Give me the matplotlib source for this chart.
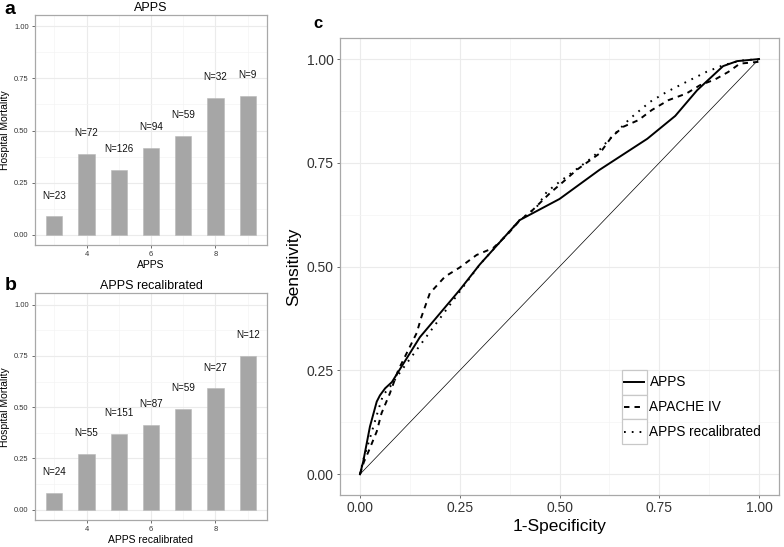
import numpy as np
import matplotlib
matplotlib.use("Agg")
import matplotlib.pyplot as plt
from matplotlib.patches import Rectangle
from matplotlib.lines import Line2D
from matplotlib.ticker import MultipleLocator

plt.rcParams["font.family"] = ["Liberation Sans", "DejaVu Sans"]

# =====================================================
# Data
# =====================================================

score = [3, 4, 5, 6, 7, 8, 9]

apps_mort = [0.087, 0.389, 0.310, 0.415, 0.475, 0.656, 0.667]
apps_n = [23, 72, 126, 94, 59, 32, 9]

recal_mort = [0.083, 0.273, 0.371, 0.414, 0.492, 0.593, 0.750]
recal_n = [24, 55, 151, 87, 59, 27, 12]

roc_names = ["APPS", "APACHE IV", "APPS recalibrated"]

apps_fpr = [0, 0.008, 0.025, 0.042, 0.05, 0.063, 0.08, 0.15, 0.25, 0.30,
            0.40, 0.50, 0.60, 0.72, 0.79, 0.845, 0.91, 0.945, 1.0]
apps_tpr = [0, 0.03, 0.115, 0.175, 0.19, 0.207, 0.222, 0.33, 0.444, 0.505,
            0.612, 0.663, 0.733, 0.808, 0.863, 0.925, 0.983, 0.995, 1.0]

apache_fpr = [0, 0.01, 0.021, 0.042, 0.054, 0.075, 0.096, 0.125, 0.142, 0.154,
              0.175, 0.213, 0.25, 0.292, 0.334, 0.368, 0.401, 0.426, 0.476,
              0.51, 0.543, 0.572, 0.601, 0.631, 0.66, 0.698, 0.731, 0.773,
              0.818, 0.852, 0.89, 0.923, 0.952, 0.996, 1.0]
apache_tpr = [0, 0.03, 0.054, 0.103, 0.147, 0.195, 0.251, 0.307, 0.34, 0.379,
              0.436, 0.476, 0.498, 0.528, 0.545, 0.576, 0.612, 0.63, 0.677,
              0.705, 0.733, 0.753, 0.773, 0.813, 0.837, 0.853, 0.877, 0.901,
              0.917, 0.937, 0.951, 0.969, 0.989, 0.993, 0.995]

recal_fpr = [0, 0.008, 0.025, 0.046, 0.058, 0.075, 0.1, 0.2, 0.3, 0.4, 0.443,
             0.468, 0.501, 0.55, 0.585, 0.618, 0.677, 0.727, 0.769, 0.818,
             0.868, 0.91, 0.952, 1.0]
recal_tpr = [0, 0.034, 0.087, 0.155, 0.191, 0.21, 0.245, 0.375, 0.505, 0.612,
             0.644, 0.68, 0.705, 0.74, 0.765, 0.80, 0.857, 0.897, 0.921, 0.945,
             0.969, 0.985, 0.996, 1.0]

# =====================================================
# Style helpers
# =====================================================

BORDER = "#A8A8A8"
GRID = "#EBEBEB"
GRID_MINOR = "#F4F4F4"
TICKTXT = "#333333"


def style_axes(ax, fs):
    ax.set_axisbelow(True)
    ax.grid(True, which="major", color=GRID, lw=0.8)
    ax.grid(True, which="minor", color=GRID_MINOR, lw=0.5)
    for s in ax.spines.values():
        s.set_color(BORDER)
        s.set_linewidth(0.9)
    ax.tick_params(which="major", length=2.5, width=0.6, color="#555555",
                   labelsize=fs, labelcolor=TICKTXT, pad=2)
    ax.tick_params(which="minor", length=0)


def bar_panel(ax, values, counts, title, xlabel):
    ax.bar(score, values, width=0.5, color="#A6A6A6", edgecolor="#B8B8B8",
           linewidth=0.4)
    for x, v, n in zip(score, values, counts):
        ax.text(x, v + 0.1, "N=%d" % n, ha="center", va="center",
                fontsize=7.1, color="#111111")
    ax.set_xlim(2.4, 9.6)
    ax.set_ylim(-0.05, 1.055)
    ax.set_xticks([4, 6, 8])
    ax.xaxis.set_minor_locator(MultipleLocator(1))
    ax.set_yticks([0, 0.25, 0.5, 0.75, 1.0])
    ax.set_yticklabels(["0.00", "0.25", "0.50", "0.75", "1.00"])
    ax.yaxis.set_minor_locator(MultipleLocator(0.125))
    style_axes(ax, 5.4)
    ax.set_title(title, fontsize=9, pad=3)
    ax.set_xlabel(xlabel, fontsize=7.5, labelpad=1)
    ax.set_ylabel("Hospital Mortality", fontsize=7.5, labelpad=3)


# =====================================================
# Figure
# =====================================================

fig = plt.figure(figsize=(7.84, 5.47), dpi=100)

ax_a = fig.add_axes([0.0446, 0.5521, 0.2960, 0.4205])
ax_b = fig.add_axes([0.0446, 0.0494, 0.2960, 0.4144])
ax_c = fig.add_axes([0.4337, 0.0950, 0.5599, 0.8350])

bar_panel(ax_a, apps_mort, apps_n, "APPS", "APPS")
bar_panel(ax_b, recal_mort, recal_n, "APPS recalibrated", "APPS recalibrated")

# ROC panel
styles = ["-", (0, (2.8, 2.6)), (0, (0.9, 3.1))]
ax_c.plot([0, 1], [0, 1], color="black", lw=0.5)
ax_c.plot(apps_fpr, apps_tpr, color="black", lw=1.4, ls=styles[0])
ax_c.plot(apache_fpr, apache_tpr, color="black", lw=1.4, ls=styles[1])
ax_c.plot(recal_fpr, recal_tpr, color="black", lw=1.4, ls=styles[2])

ax_c.set_xlim(-0.05, 1.05)
ax_c.set_ylim(-0.05, 1.05)
ticks = [0, 0.25, 0.5, 0.75, 1.0]
labels = ["0.00", "0.25", "0.50", "0.75", "1.00"]
ax_c.set_xticks(ticks)
ax_c.set_xticklabels(labels)
ax_c.set_yticks(ticks)
ax_c.set_yticklabels(labels)
ax_c.xaxis.set_minor_locator(MultipleLocator(0.125))
ax_c.yaxis.set_minor_locator(MultipleLocator(0.125))
style_axes(ax_c, 10)
ax_c.set_xlabel("1-Specificity", fontsize=12.5, labelpad=3)
ax_c.set_ylabel("Sensitivity", fontsize=12.5, labelpad=4)

# legend drawn as ggplot-style keys
kx0, kx1 = 0.642, 0.699
ktop, kh = 0.2737, 0.054
for i, name in enumerate(roc_names):
    y0 = ktop - (i + 1) * kh
    ax_c.add_patch(Rectangle((kx0, y0), kx1 - kx0, kh, transform=ax_c.transAxes,
                             facecolor="white", edgecolor="#C8C8C8", lw=0.9,
                             zorder=5))
    ax_c.add_line(Line2D([kx0 + 0.006, kx1 - 0.006], [y0 + kh / 2] * 2,
                         transform=ax_c.transAxes, color="black", lw=1.4,
                         ls=styles[i], zorder=6))
    ax_c.text(kx1 + 0.006, y0 + kh / 2, name, transform=ax_c.transAxes,
              ha="left", va="center", fontsize=9.8, zorder=6)

# panel letters
fig.text(4 / 784, 1 - 14 / 547, "a", fontsize=14, fontweight="bold")
fig.text(5 / 784, 1 - 290.5 / 547, "b", fontsize=14, fontweight="bold")
fig.text(313 / 784, 1 - 28 / 547, "c", fontsize=12, fontweight="bold")

fig.savefig("out.png", dpi=100)
